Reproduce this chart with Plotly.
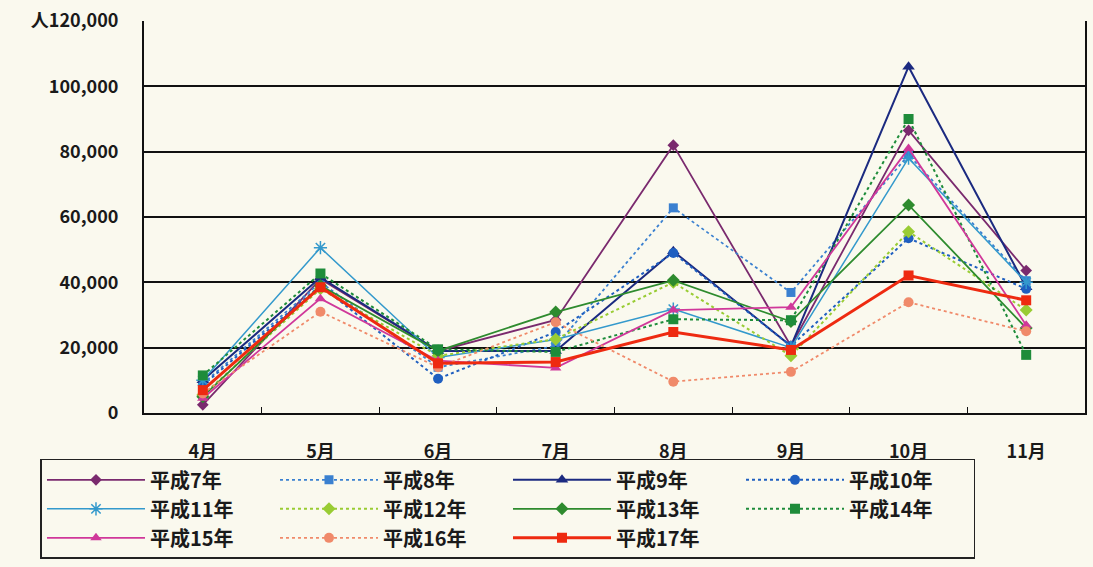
import plotly.graph_objects as go

months = ["4月", "5月", "6月", "7月", "8月", "9月", "10月", "11月"]

h7 = [2500, 41000, 19000, 28500, 82000, 20500, 86500, 43600]
h8 = [9000, 40000, 14000, 20500, 62800, 36900, 79000, 40500]
h9 = [10000, 41500, 19000, 19000, 49500, 20500, 106000, 38500]
h10 = [8500, 39000, 10500, 24800, 49000, 20500, 53500, 38000]
h11 = [10000, 50600, 17000, 22500, 31800, 20000, 78000, 40000]
h12 = [5500, 38000, 17500, 22600, 40000, 17500, 55500, 31500]
h13 = [5000, 39000, 19000, 30900, 40600, 28000, 63700, 26000]
h14 = [11500, 42700, 19500, 18700, 28700, 28400, 90000, 17800]
h15 = [4500, 35000, 16000, 13800, 31500, 32400, 81000, 26900]
h16 = [6000, 31000, 14000, 27800, 9600, 12600, 33900, 25000]
h17 = [7000, 38500, 15200, 15600, 24800, 19300, 42100, 34500]

series = [
    ("平成7年", h7, "#7A2A6E", "solid", "diamond", 1.8, 9),
    ("平成8年", h8, "#3A80D0", "dot", "square", 1.8, 9),
    ("平成9年", h9, "#1B2A80", "solid", "triangle-up", 2.0, 11),
    ("平成10年", h10, "#1F5FC0", "dot", "circle", 2.0, 10),
    ("平成11年", h11, "#3399CC", "solid", "asterisk-open", 1.5, 11),
    ("平成12年", h12, "#99CC33", "dot", "diamond", 2.0, 10),
    ("平成13年", h13, "#2E8B2E", "solid", "diamond", 1.8, 10),
    ("平成14年", h14, "#1E8C3A", "dot", "square", 2.0, 10),
    ("平成15年", h15, "#D0389A", "solid", "triangle-up", 1.8, 10),
    ("平成16年", h16, "#F08A6A", "dot", "circle", 1.8, 10),
    ("平成17年", h17, "#EE2A10", "solid", "square", 3.0, 10),
]

fig = go.Figure()
for name, vals, color, dash, sym, w, ms in series:
    fig.add_trace(go.Scatter(
        x=months, y=vals, name=name, mode="lines+markers",
        line=dict(color=color, dash=dash, width=w),
        marker=dict(symbol=sym, size=ms, color=color,
                    line=dict(color=color, width=1.5 if sym == "asterisk-open" else 0)),
    ))

yticks = [0, 20000, 40000, 60000, 80000, 100000, 120000]
ytext = ["0", "20,000", "40,000", "60,000", "80,000", "100,000", "人120,000"]

font_main = "Noto Sans CJK JP, Noto Sans, sans-serif"
bg = "#FAF9EE"

fig.update_layout(
    width=1093, height=567,
    paper_bgcolor=bg, plot_bgcolor=bg,
    margin=dict(l=144, r=8, t=21, b=151),
    font=dict(family=font_main, size=17, color="#1a1a1a"),
    showlegend=True,
    legend=dict(
        orientation="h", x=-0.11, xanchor="left", y=-0.117, yanchor="top",
        entrywidth=120, entrywidthmode="pixels",
        bordercolor="#222", borderwidth=1.5, bgcolor=bg,
        font=dict(family=font_main, size=20, color="#1a1a1a", weight="bold"),
        tracegroupgap=0, itemwidth=98,
    ),
    xaxis=dict(
        showline=True, linecolor="#111", linewidth=2, mirror=False,
        ticks="inside", tickson="boundaries", ticklen=6, tickcolor="#111",
        showgrid=False, tickfont=dict(size=18, family=font_main, weight="bold"),
        range=[-0.5, 7.5], ticklabelstandoff=21, automargin=False,
    ),
    yaxis=dict(
        range=[0, 120000], tickvals=yticks, ticktext=ytext,
        showline=True, linecolor="#111", linewidth=2, mirror=True,
        showgrid=True, gridcolor="#111", gridwidth=1.5,
        ticks="", tickfont=dict(size=18, family=font_main, weight="bold"),
        zeroline=False, ticklabelstandoff=20, automargin=False,
    ),
)

fig.write_html("out.html", config={"displayModeBar": False},
               post_script="document.body.style.margin='0';")
